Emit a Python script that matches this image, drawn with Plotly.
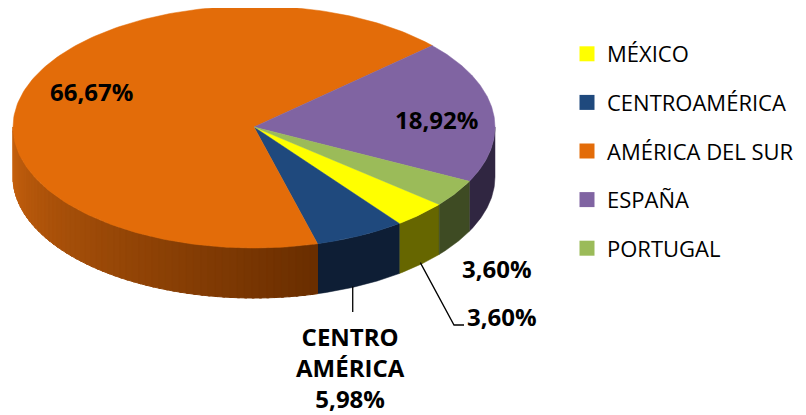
import numpy as np
import plotly.graph_objects as go

# ---- data ----
categories = ["MÉXICO", "CENTROAMÉRICA", "AMÉRICA DEL SUR", "ESPAÑA", "PORTUGAL"]
values = [3.60, 5.98, 66.67, 18.92, 3.60]
label_texts = ["3,60%", "CENTRO<br>AMÉRICA<br>5,98%", "66,67%", "18,92%", "3,60%"]

top_colors = ["#FFFF00", "#1F497D", "#E36C09", "#8064A2", "#9BBB59"]
side_colors = ["#666600", "#0E1E35", None, "#302641", "#3E4B23"]

# ---- geometry (style) ----
OFF = 8  # page body margin
W, H = 806 - OFF, 415 - OFF
cx, cy = 254, 127
rx, ry = 241, 121
depth = 50
start_deg = -39.8  # math angle where first slice starts, slices run clockwise

vals = np.array(values, dtype=float)
fracs = vals / vals.sum()
ends = start_deg - np.cumsum(fracs) * 360.0
starts = np.concatenate([[start_deg], ends[:-1]])


def pt(t_deg, dz=0.0):
    t = np.radians(t_deg)
    return cx + rx * np.cos(t), cy - ry * np.sin(t) + dz


fig = go.Figure()


def front_interval(a_start, a_end):
    lo, hi = a_end, a_start
    segs = []
    for k in range(-2, 3):
        f_lo, f_hi = 180 + 360 * k, 360 + 360 * k
        s, e = max(lo, f_lo), min(hi, f_hi)
        if e > s:
            segs.append((s, e))
    return segs


def side_poly(s, e, n=60):
    ts = np.linspace(s, e, n)
    xs_top, ys_top = pt(ts)
    xs_bot, ys_bot = pt(ts[::-1], depth)
    return np.concatenate([xs_top, xs_bot, [xs_top[0]]]), np.concatenate([ys_top, ys_bot, [ys_top[0]]])


def lerp_color(c1, c2, f):
    a = [int(c1[i:i + 2], 16) for i in (1, 3, 5)]
    b = [int(c2[i:i + 2], 16) for i in (1, 3, 5)]
    return "rgb(%d,%d,%d)" % tuple(round(a[j] + (b[j] - a[j]) * f) for j in range(3))


for i in range(len(values)):
    for (s, e) in front_interval(starts[i], ends[i]):
        if side_colors[i] is None:
            nstrip = 60
            edges = np.linspace(s, e, nstrip + 1)
            for k in range(nstrip):
                f = k / (nstrip - 1)
                col = lerp_color("#C8620E", "#6A2E00", f)
                xs, ys = side_poly(edges[k], min(edges[k + 1] + 0.6, e), 6)
                fig.add_trace(go.Scatter(x=xs, y=ys, mode="lines", fill="toself",
                                         fillcolor=col, line=dict(width=1, color=col),
                                         hoverinfo="skip", showlegend=False))
        else:
            xs, ys = side_poly(s, e)
            fig.add_trace(go.Scatter(x=xs, y=ys, mode="lines", fill="toself",
                                     fillcolor=side_colors[i], line=dict(width=0.5, color=side_colors[i]),
                                     hoverinfo="skip", showlegend=False))

# top faces
for i in range(len(values)):
    ts = np.linspace(starts[i], ends[i], 200)
    ax, ay = pt(ts)
    xs = np.concatenate([[cx], ax, [cx]])
    ys = np.concatenate([[cy], ay, [cy]])
    fig.add_trace(go.Scatter(x=xs, y=ys, mode="lines", fill="toself",
                             fillcolor=top_colors[i], line=dict(width=0.5, color=top_colors[i]),
                             hoverinfo="skip", showlegend=False))

# legend entries
for i, name in enumerate(categories):
    fig.add_trace(go.Scatter(x=[None], y=[None], mode="markers", name=name,
                             legendgroup=name,
                             marker=dict(symbol="square", size=15, color=top_colors[i])))

# leader lines
mid = (starts + ends) / 2
mx, my = pt(mid[0], depth)
fig.add_trace(go.Scatter(x=[mx, 454, 464], y=[my - 2, 325, 325], mode="lines",
                         line=dict(color="black", width=1.3), hoverinfo="skip", showlegend=False))
bx, by = pt(mid[1] - 2, depth)
fig.add_trace(go.Scatter(x=[bx, bx], y=[by - 1, 312], mode="lines",
                         line=dict(color="black", width=1.3), hoverinfo="skip", showlegend=False))

label_font = dict(family="Open Sans", size=24, color="black")
label_pos = [(502, 316), (350, 367), (91, 91), (436, 119), (497, 268)]
for i, (lx, ly) in enumerate(label_pos):
    fig.add_annotation(x=lx, y=ly, text="<b>%s</b>" % label_texts[i], showarrow=False,
                       font=label_font, xanchor="center", yanchor="middle")

fig.update_layout(
    width=W, height=H,
    margin=dict(l=0, r=0, t=0, b=0),
    paper_bgcolor="white", plot_bgcolor="white",
    xaxis=dict(range=[OFF, OFF + W], visible=False, fixedrange=True),
    yaxis=dict(range=[OFF + H, OFF], visible=False, fixedrange=True),
    showlegend=True,
    legend=dict(x=(567 - OFF) / W, y=1 - (33 - OFF) / H, xanchor="left", yanchor="top",
                font=dict(family="Open Sans", size=22, color="black"),
                traceorder="grouped", tracegroupgap=17, bgcolor="rgba(0,0,0,0)",
                itemwidth=30),
)

fig.write_html("out.html")
